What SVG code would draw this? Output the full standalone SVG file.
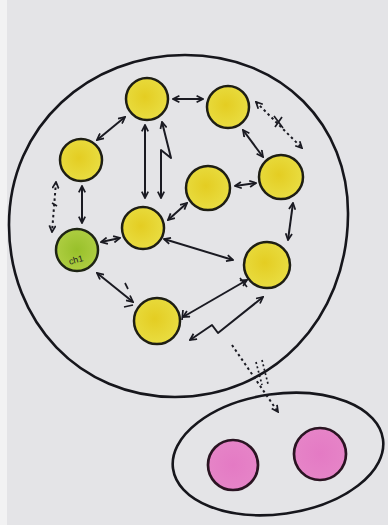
<svg xmlns="http://www.w3.org/2000/svg" width="388" height="525" viewBox="0 0 388 525">
<defs>
<marker id="ah" viewBox="0 0 10 10" refX="9" refY="5" markerWidth="8" markerHeight="8" orient="auto-start-reverse" markerUnits="userSpaceOnUse">
<path d="M1,1 L9,5 L1,9" fill="none" stroke="#1a1a22" stroke-width="2.2"/>
</marker>
<radialGradient id="yel" cx="0.45" cy="0.45" r="0.6">
<stop offset="0" stop-color="#e4cd22"/><stop offset="1" stop-color="#e9de44"/>
</radialGradient>
<radialGradient id="grn" cx="0.5" cy="0.5" r="0.6">
<stop offset="0" stop-color="#98c02a"/><stop offset="1" stop-color="#b2d046"/>
</radialGradient>
<radialGradient id="pnk" cx="0.5" cy="0.5" r="0.6">
<stop offset="0" stop-color="#e47ac4"/><stop offset="1" stop-color="#e686c8"/>
</radialGradient>
</defs>
<style>
.bg{fill:#e4e4e7}
.outer{fill:none;stroke:#16161c;stroke-width:2.6}
.y{fill:url(#yel);stroke:#1e1e14;stroke-width:2.5}
.g{fill:url(#grn);stroke:#1e2414;stroke-width:2.5}
.p{fill:url(#pnk);stroke:#2a1422;stroke-width:2.7}
.c{fill:none;stroke:#1a1a22;stroke-width:2;stroke-linejoin:round;marker-start:url(#ah);marker-end:url(#ah)}
.d{fill:none;stroke:#1a1a22;stroke-width:2;stroke-dasharray:2.5 3;marker-start:url(#ah);marker-end:url(#ah)}
.d1{fill:none;stroke:#1a1a22;stroke-width:2;stroke-dasharray:2.5 3;marker-end:url(#ah)}
.m{fill:none;stroke:#1a1a22;stroke-width:1.7}
.t{font-family:"Liberation Sans",sans-serif;font-size:9px;fill:#1a1a22}
</style>
<rect class="bg" x="0" y="0" width="388" height="525"/>
<rect x="0" y="0" width="7" height="525" fill="#f2f2f3"/>
<g id="cell">
<path class="outer" d="M185,55 C282,55 349,125 348,215 C347,320 272,397 175,397 C80,397 9,322 9,225 C9,125 90,55 185,55 Z"/>
</g>
<g id="target">
<ellipse class="outer" cx="278" cy="454" rx="106" ry="60" transform="rotate(-8 278 454)"/>
</g>
<g id="connectors">
<path class="c" d="M173,99 L203,99"/>
<path class="d" d="M256,102 L302,148"/>
<path class="m" d="M274,116 L283,128 M282,117 L275,127"/>
<path class="c" d="M243,130 L263,157"/>
<path class="c" d="M125,117 L97,140"/>
<path class="c" d="M145,125 L145,198"/>
<path class="c" d="M162,122 L171,158 L161,150 L161,198"/>
<path class="c" d="M82,186 L82,223"/>
<path class="d" d="M56,182 L52,232"/>
<path class="m" d="M52,203 L57,206"/>
<path class="c" d="M168,220 L187,203"/>
<path class="c" d="M235,186 L256,183"/>
<path class="c" d="M293,203 L288,240"/>
<path class="c" d="M101,242 L120,238"/>
<path class="c" d="M164,239 L233,260"/>
<path class="c" d="M97,273 L133,302"/>
<path class="m" d="M124,307 L133,305 M125,283 L128,289"/>
<path class="c" d="M183,317 L247,280"/>
<path class="m" d="M183,310 L182,320 M240,278 L247,287"/>
<path class="c" d="M190,340 L212,325 L218,333 L263,297"/>
<path class="d1" d="M232,345 L278,412"/>
<path class="m" stroke-dasharray="2 2.5" d="M256,362 L262,385 M262,360 L268,384"/>
</g>
<g id="n1"><circle class="y" cx="147" cy="99" r="21"/></g>
<g id="n2"><circle class="y" cx="228" cy="107" r="21"/></g>
<g id="n3"><circle class="y" cx="81" cy="160" r="21"/></g>
<g id="n4"><circle class="y" cx="281" cy="177" r="22"/></g>
<g id="n5"><circle class="y" cx="208" cy="188" r="22"/></g>
<g id="n6"><circle class="y" cx="143" cy="228" r="21"/></g>
<g id="n7"><circle class="g" cx="77" cy="250" r="21"/><text class="t" x="76" y="263" text-anchor="middle" transform="rotate(-15 76 260)">ch1</text></g>
<g id="n8"><circle class="y" cx="267" cy="265" r="23"/></g>
<g id="n9"><circle class="y" cx="157" cy="321" r="23"/></g>
<g id="p1"><circle class="p" cx="233" cy="465" r="25"/></g>
<g id="p2"><circle class="p" cx="320" cy="454" r="26"/></g>
</svg>
